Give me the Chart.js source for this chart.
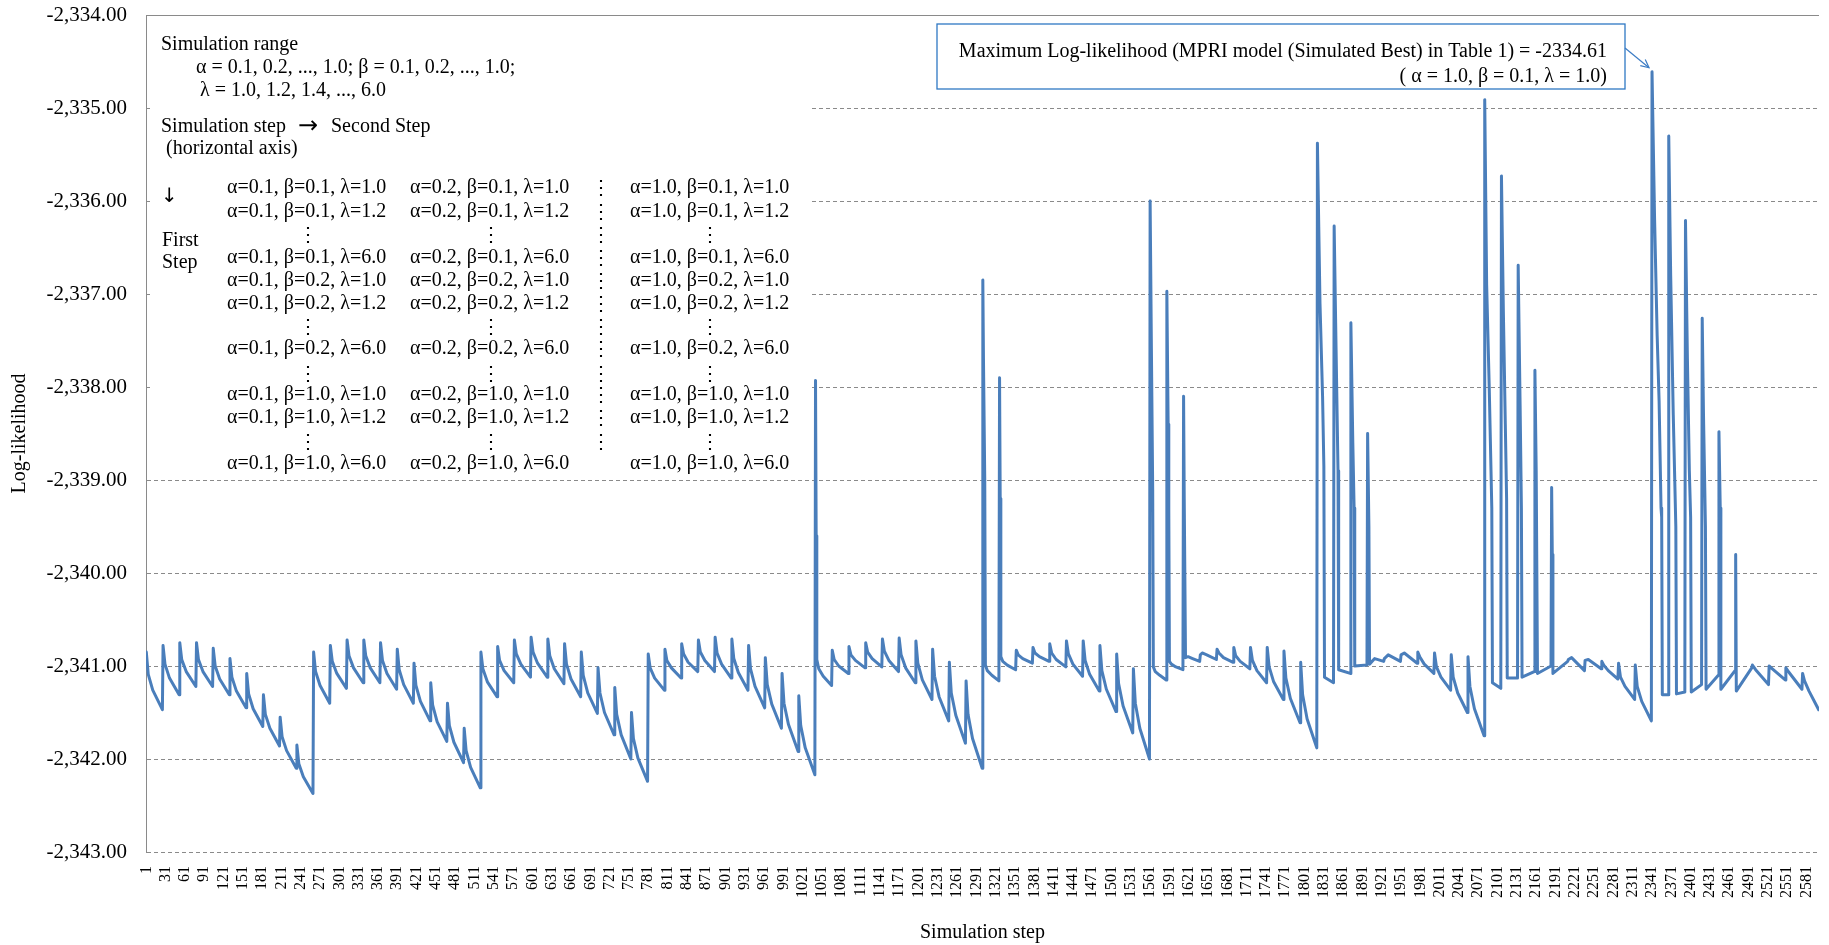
<!DOCTYPE html>
<html><head><meta charset="utf-8">
<script src="https://cdn.jsdelivr.net/npm/chart.js@4.4.1/dist/chart.umd.min.js"></script>
<style>html,body{margin:0;padding:0;background:#fff;}#wrap{position:relative;width:1829px;height:945px;}</style>
</head><body><div id="wrap"><canvas id="c"></canvas></div>
<script>
// ---- tick labels (simulation step axis) ----
const xTickLabels = [1,31,61,91,121,151,181,211,241,271,301,331,361,391,421,451,481,511,541,571,601,631,661,691,721,751,781,811,841,871,901,931,961,991,1021,1051,1081,1111,1141,1171,1201,1231,1261,1291,1321,1351,1381,1411,1441,1471,1501,1531,1561,1591,1621,1651,1681,1711,1741,1771,1801,1831,1861,1891,1921,1951,1981,2011,2041,2071,2101,2131,2161,2191,2221,2251,2281,2311,2341,2371,2401,2431,2461,2491,2521,2551,2581];
const yMin = -2343, yMax = -2334;

// ---- series: [simulation step, log-likelihood], one array per alpha ----
const alpha01 = [[1,-2340.85],[4,-2341.09],[11,-2341.26],[26,-2341.47],[27,-2340.78],[30,-2340.98],[37,-2341.13],[52,-2341.31],[53,-2340.75],[56,-2340.93],[63,-2341.06],[78,-2341.22],[79,-2340.75],[82,-2340.93],[89,-2341.06],[104,-2341.22],[105,-2340.81],[108,-2341.00],[115,-2341.14],[130,-2341.31],[131,-2340.92],[134,-2341.12],[141,-2341.27],[156,-2341.45],[157,-2341.08],[160,-2341.30],[167,-2341.46],[182,-2341.65],[183,-2341.31],[186,-2341.52],[193,-2341.67],[208,-2341.86],[209,-2341.55],[212,-2341.76],[219,-2341.91],[234,-2342.10],[235,-2341.85],[238,-2342.05],[245,-2342.19],[260,-2342.37]];
const alpha02 = [[261,-2340.85],[264,-2341.06],[271,-2341.21],[286,-2341.40],[287,-2340.78],[290,-2340.95],[297,-2341.08],[312,-2341.24],[313,-2340.72],[316,-2340.89],[323,-2341.02],[338,-2341.18],[339,-2340.72],[342,-2340.89],[349,-2341.02],[364,-2341.18],[365,-2340.75],[368,-2340.94],[375,-2341.08],[390,-2341.25],[391,-2340.82],[394,-2341.04],[401,-2341.20],[416,-2341.40],[417,-2340.97],[420,-2341.21],[427,-2341.38],[442,-2341.59],[443,-2341.18],[446,-2341.42],[453,-2341.60],[468,-2341.81],[469,-2341.40],[472,-2341.64],[479,-2341.82],[494,-2342.04],[495,-2341.67],[498,-2341.91],[505,-2342.09],[520,-2342.31]];
const alpha03 = [[521,-2340.85],[524,-2341.03],[531,-2341.17],[546,-2341.33],[547,-2340.79],[550,-2340.94],[557,-2341.05],[572,-2341.18],[573,-2340.72],[576,-2340.87],[583,-2340.98],[598,-2341.12],[599,-2340.69],[602,-2340.85],[609,-2340.97],[624,-2341.12],[625,-2340.71],[628,-2340.89],[635,-2341.03],[650,-2341.19],[651,-2340.76],[654,-2340.98],[661,-2341.14],[676,-2341.33],[677,-2340.85],[680,-2341.10],[687,-2341.29],[702,-2341.51],[703,-2341.02],[706,-2341.29],[713,-2341.50],[728,-2341.74],[729,-2341.23],[732,-2341.52],[739,-2341.74],[754,-2342.00],[755,-2341.50],[758,-2341.78],[765,-2341.99],[780,-2342.24]];
const alpha04 = [[781,-2340.87],[784,-2341.02],[791,-2341.13],[806,-2341.26],[807,-2340.82],[810,-2340.94],[817,-2341.02],[832,-2341.13],[833,-2340.76],[836,-2340.87],[843,-2340.96],[858,-2341.06],[859,-2340.72],[862,-2340.85],[869,-2340.94],[884,-2341.06],[885,-2340.69],[888,-2340.86],[895,-2340.98],[910,-2341.13],[911,-2340.71],[914,-2340.92],[921,-2341.07],[936,-2341.26],[937,-2340.78],[940,-2341.03],[947,-2341.22],[962,-2341.45],[963,-2340.91],[966,-2341.20],[973,-2341.41],[988,-2341.67],[989,-2341.08],[992,-2341.40],[999,-2341.63],[1014,-2341.92],[1015,-2341.32],[1018,-2341.64],[1025,-2341.88],[1040,-2342.17]];
const alpha05 = [[1041,-2337.93],[1042,-2339.60],[1043,-2340.93],[1046,-2341.03],[1053,-2341.11],[1066,-2341.21],[1067,-2340.83],[1070,-2340.93],[1077,-2341.00],[1092,-2341.08],[1093,-2340.79],[1096,-2340.88],[1103,-2340.94],[1118,-2341.02],[1119,-2340.75],[1122,-2340.85],[1129,-2340.92],[1144,-2341.01],[1145,-2340.71],[1148,-2340.84],[1155,-2340.94],[1170,-2341.06],[1171,-2340.70],[1174,-2340.88],[1181,-2341.02],[1196,-2341.18],[1197,-2340.73],[1200,-2340.97],[1207,-2341.15],[1222,-2341.36],[1223,-2340.82],[1226,-2341.11],[1233,-2341.33],[1248,-2341.59],[1249,-2340.96],[1252,-2341.29],[1259,-2341.53],[1274,-2341.83],[1275,-2341.16],[1278,-2341.52],[1285,-2341.78],[1300,-2342.10]];
const alpha06 = [[1301,-2336.85],[1302,-2337.70],[1304,-2339.00],[1305,-2340.99],[1308,-2341.05],[1315,-2341.10],[1326,-2341.16],[1327,-2337.90],[1328,-2339.20],[1329,-2340.90],[1332,-2340.95],[1339,-2340.99],[1352,-2341.04],[1353,-2340.83],[1356,-2340.88],[1363,-2340.92],[1378,-2340.97],[1379,-2340.80],[1382,-2340.86],[1389,-2340.90],[1404,-2340.95],[1405,-2340.76],[1408,-2340.86],[1415,-2340.93],[1430,-2341.01],[1431,-2340.73],[1434,-2340.87],[1441,-2340.98],[1456,-2341.11],[1457,-2340.73],[1460,-2340.94],[1467,-2341.09],[1482,-2341.27],[1483,-2340.78],[1486,-2341.05],[1493,-2341.25],[1508,-2341.49],[1509,-2340.87],[1512,-2341.19],[1519,-2341.43],[1534,-2341.72],[1535,-2341.03],[1538,-2341.40],[1545,-2341.67],[1560,-2342.00]];
const alpha07 = [[1561,-2336.00],[1563,-2337.60],[1565,-2339.10],[1566,-2341.01],[1569,-2341.06],[1576,-2341.10],[1586,-2341.15],[1587,-2336.97],[1589,-2338.40],[1590,-2339.30],[1591,-2340.95],[1594,-2340.98],[1601,-2341.01],[1612,-2341.04],[1613,-2338.10],[1614,-2339.20],[1616,-2340.91],[1620,-2340.90],[1627,-2340.92],[1638,-2340.95],[1639,-2340.88],[1642,-2340.86],[1649,-2340.88],[1664,-2340.93],[1665,-2340.82],[1668,-2340.86],[1675,-2340.91],[1690,-2340.96],[1691,-2340.80],[1694,-2340.89],[1701,-2340.95],[1716,-2341.03],[1717,-2340.80],[1720,-2340.94],[1727,-2341.05],[1742,-2341.18],[1743,-2340.80],[1746,-2341.01],[1753,-2341.17],[1768,-2341.36],[1769,-2340.84],[1772,-2341.13],[1779,-2341.35],[1794,-2341.61],[1795,-2340.96],[1798,-2341.31],[1805,-2341.57],[1820,-2341.88]];
const alpha08 = [[1821,-2335.38],[1825,-2337.10],[1829,-2338.10],[1831,-2338.85],[1832,-2341.12],[1839,-2341.15],[1846,-2341.18],[1847,-2336.27],[1850,-2337.60],[1853,-2338.90],[1854,-2341.04],[1872,-2341.08],[1873,-2337.31],[1876,-2338.60],[1878,-2339.30],[1879,-2341.00],[1898,-2340.99],[1899,-2338.50],[1901,-2339.50],[1902,-2340.98],[1910,-2340.92],[1924,-2340.95],[1925,-2340.92],[1931,-2340.88],[1950,-2340.95],[1951,-2340.88],[1956,-2340.86],[1976,-2340.97],[1977,-2340.85],[1980,-2340.90],[1987,-2340.98],[2002,-2341.08],[2003,-2340.86],[2006,-2341.01],[2013,-2341.12],[2028,-2341.26],[2029,-2340.88],[2032,-2341.12],[2039,-2341.29],[2054,-2341.50],[2055,-2340.90],[2058,-2341.22],[2065,-2341.46],[2080,-2341.75]];
const alpha09 = [[2081,-2334.91],[2084,-2336.90],[2088,-2338.00],[2092,-2339.30],[2093,-2341.18],[2106,-2341.24],[2107,-2335.73],[2110,-2337.20],[2113,-2338.40],[2115,-2339.20],[2116,-2341.13],[2132,-2341.13],[2133,-2336.69],[2136,-2338.20],[2138,-2339.30],[2139,-2341.12],[2158,-2341.06],[2159,-2337.82],[2161,-2338.90],[2163,-2341.08],[2184,-2341.00],[2185,-2339.08],[2186,-2339.80],[2187,-2341.08],[2210,-2340.95],[2211,-2340.93],[2216,-2340.91],[2236,-2341.05],[2237,-2340.94],[2242,-2340.93],[2262,-2341.03],[2263,-2340.95],[2266,-2340.99],[2273,-2341.05],[2288,-2341.14],[2289,-2340.97],[2292,-2341.12],[2299,-2341.22],[2314,-2341.36],[2315,-2340.99],[2318,-2341.22],[2325,-2341.38],[2340,-2341.59]];
const alpha10 = [[2341,-2334.61],[2345,-2336.20],[2349,-2337.45],[2352,-2338.15],[2355,-2339.30],[2356,-2339.40],[2357,-2341.31],[2366,-2341.31],[2367,-2335.30],[2370,-2336.80],[2374,-2338.30],[2378,-2339.50],[2379,-2341.30],[2392,-2341.28],[2393,-2336.21],[2396,-2337.70],[2399,-2338.90],[2401,-2339.40],[2402,-2341.28],[2418,-2341.20],[2419,-2337.26],[2421,-2338.30],[2424,-2339.50],[2425,-2341.25],[2444,-2341.10],[2445,-2338.48],[2447,-2339.30],[2448,-2341.25],[2470,-2341.05],[2471,-2339.80],[2472,-2341.27],[2496,-2341.02],[2497,-2340.99],[2502,-2341.04],[2522,-2341.20],[2523,-2341.00],[2528,-2341.03],[2548,-2341.15],[2549,-2341.02],[2554,-2341.07],[2574,-2341.25],[2575,-2341.08],[2578,-2341.16],[2585,-2341.27],[2600,-2341.47]];
const maxPoint = {step: 2341, value: -2334.61};

const seriesBlocks = [alpha01, alpha02, alpha03, alpha04, alpha05, alpha06, alpha07, alpha08, alpha09, alpha10];
const points = seriesBlocks.flat().map(p => ({x: p[0], y: p[1]}));

// ---- annotation texts ----
const rangeLines = ['Simulation range', 'α = 0.1, 0.2, ..., 1.0; β = 0.1, 0.2, ..., 1.0;', 'λ = 1.0, 1.2, 1.4, ..., 6.0'];
const stepParts = ['Simulation step', '→', 'Second Step', ' (horizontal axis)'];
const col1 = ['α=0.1, β=0.1, λ=1.0','α=0.1, β=0.1, λ=1.2','⋮','α=0.1, β=0.1, λ=6.0','α=0.1, β=0.2, λ=1.0','α=0.1, β=0.2, λ=1.2','⋮','α=0.1, β=0.2, λ=6.0','⋮','α=0.1, β=1.0, λ=1.0','α=0.1, β=1.0, λ=1.2','⋮','α=0.1, β=1.0, λ=6.0'];
const col2 = ['α=0.2, β=0.1, λ=1.0','α=0.2, β=0.1, λ=1.2','⋮','α=0.2, β=0.1, λ=6.0','α=0.2, β=0.2, λ=1.0','α=0.2, β=0.2, λ=1.2','⋮','α=0.2, β=0.2, λ=6.0','⋮','α=0.2, β=1.0, λ=1.0','α=0.2, β=1.0, λ=1.2','⋮','α=0.2, β=1.0, λ=6.0'];
const col3 = ['α=1.0, β=0.1, λ=1.0','α=1.0, β=0.1, λ=1.2','⋮','α=1.0, β=0.1, λ=6.0','α=1.0, β=0.2, λ=1.0','α=1.0, β=0.2, λ=1.2','⋮','α=1.0, β=0.2, λ=6.0','⋮','α=1.0, β=1.0, λ=1.0','α=1.0, β=1.0, λ=1.2','⋮','α=1.0, β=1.0, λ=6.0'];
const calloutLines = ['Maximum Log-likelihood (MPRI model (Simulated Best) in Table 1) = -2334.61', '( α = 1.0, β = 0.1, λ = 1.0)'];

const SERIF = '"Liberation Serif", "DejaVu Serif", "Times New Roman", serif';
const TXT = '20px ' + SERIF;
const ARROWFONT = '"DejaVu Sans", sans-serif';

const annotPlugin = {
  id: 'annot',
  beforeDatasetsDraw(chart) {
    const ctx = chart.ctx;
    ctx.save();
    ctx.fillStyle = '#ffffff';
    ctx.fillRect(150, 18, 660, 456);
    ctx.fillStyle = '#000';
    ctx.font = TXT;
    ctx.textBaseline = 'alphabetic';
    ctx.textAlign = 'left';
    ctx.fillText(rangeLines[0], 161, 49.5);
    ctx.fillText(rangeLines[1], 196, 72.5);
    ctx.fillText(rangeLines[2], 200, 95.5);
    ctx.fillText(stepParts[0], 161, 132);
    ctx.fillText(stepParts[2], 331, 132);
    ctx.fillText(stepParts[3], 161, 153.5);
    ctx.font = '24px ' + ARROWFONT;
    ctx.fillText(stepParts[1], 298, 133);
    ctx.font = '20px ' + ARROWFONT;
    ctx.fillText('↓', 161, 202);
    ctx.font = TXT;
    ctx.fillText('First', 162, 245.5);
    ctx.fillText('Step', 162, 267.5);
    const base = [193, 216.5, 241, 263, 286, 309, 333, 354, 380, 400, 423, 448, 469];
    const colX = [227, 410, 630];
    const dotX = [308, 491, 710];
    [col1, col2, col3].forEach((col, ci) => {
      col.forEach((t, ri) => {
        if (t === '⋮') { ctx.textAlign = 'center'; ctx.fillText(t, dotX[ci], base[ri]); }
        else { ctx.textAlign = 'left'; ctx.fillText(t, colX[ci], base[ri]); }
      });
    });
    ctx.textAlign = 'center';
    for (let ri = 0; ri < base.length - 1; ri++) ctx.fillText('⋮', 601, base[ri] + (col1[ri] === '⋮' ? 0 : 1));
    ctx.restore();
  },
  afterDatasetsDraw(chart) {
    const ctx = chart.ctx;
    const xs = chart.scales.x, ys = chart.scales.y;
    ctx.save();
    const bx = 937, by = 24, bw = 688, bh = 65;
    ctx.fillStyle = '#ffffff';
    ctx.fillRect(bx, by, bw, bh);
    ctx.strokeStyle = '#2f78c4';
    ctx.lineWidth = 1.3;
    ctx.strokeRect(bx, by, bw, bh);
    ctx.fillStyle = '#000';
    ctx.font = TXT;
    ctx.textAlign = 'right';
    ctx.fillText(calloutLines[0], 1607, 57);
    ctx.fillText(calloutLines[1], 1607, 82);
    // arrow to the maximum
    const tx = xs.getPixelForValue(maxPoint.step) - 3;
    const ty = ys.getPixelForValue(maxPoint.value) - 4;
    const sx = bx + bw, sy = 48;
    ctx.strokeStyle = '#3c7cc4';
    ctx.lineWidth = 1.2;
    ctx.beginPath(); ctx.moveTo(sx, sy); ctx.lineTo(tx, ty); ctx.stroke();
    const ang = Math.atan2(ty - sy, tx - sx);
    ctx.beginPath();
    ctx.moveTo(tx - 9 * Math.cos(ang - 0.45), ty - 9 * Math.sin(ang - 0.45));
    ctx.lineTo(tx, ty);
    ctx.lineTo(tx - 9 * Math.cos(ang + 0.45), ty - 9 * Math.sin(ang + 0.45));
    ctx.stroke();
    ctx.restore();
  }
};

new Chart(document.getElementById('c'), {
  type: 'line',
  data: { datasets: [{
    data: points,
    borderColor: 'rgb(74,126,187)',
    borderWidth: 3,
    pointRadius: 0,
    pointHoverRadius: 0,
    tension: 0,
    fill: false,
    borderJoinStyle: 'round',
    borderCapStyle: 'round'
  }]},
  options: {
    responsive: true,
    maintainAspectRatio: false,
    animation: false,
    events: [],
    layout: { padding: { top: 15, right: 10, left: 0, bottom: 0 } },
    plugins: { legend: { display: false }, tooltip: { enabled: false }, title: { display: false } },
    scales: {
      x: {
        type: 'linear',
        min: 0.5, max: 2600.5,
        afterBuildTicks: (s) => { s.ticks = xTickLabels.map(v => ({ value: v })); },
        afterFit: (s) => { s.height = 93; s.paddingLeft = 0; s.paddingRight = 0; },
        grid: { display: false, drawTicks: false },
        border: { display: false },
        ticks: {
          autoSkip: false, maxRotation: 90, minRotation: 90, padding: 14,
          color: '#000', font: { family: SERIF, size: 16 },
          callback: (v) => String(v)
        },
        title: { display: true, text: 'Simulation step', color: '#000', font: { family: SERIF, size: 20 }, padding: { top: 0, bottom: 0 } }
      },
      y: {
        min: yMin, max: yMax,
        afterFit: (s) => { s.width = 146; s.paddingTop = 0; s.paddingBottom = 0; },
        grid: { color: '#8a8a8a', lineWidth: 1, drawTicks: false },
        border: { display: true, color: '#8a8a8a', width: 1, dash: (c) => (c.tick && c.tick.value === yMax) ? [] : [4, 3] },
        ticks: {
          stepSize: 1, padding: 19, color: '#000', font: { family: SERIF, size: 21 },
          callback: (v) => Number(v).toLocaleString('en-US', { minimumFractionDigits: 2, maximumFractionDigits: 2 })
        },
        title: { display: true, text: 'Log-likelihood', color: '#000', font: { family: SERIF, size: 20 }, padding: { top: 8, bottom: 0 } }
      }
    }
  },
  plugins: [annotPlugin]
});
</script></body></html>
